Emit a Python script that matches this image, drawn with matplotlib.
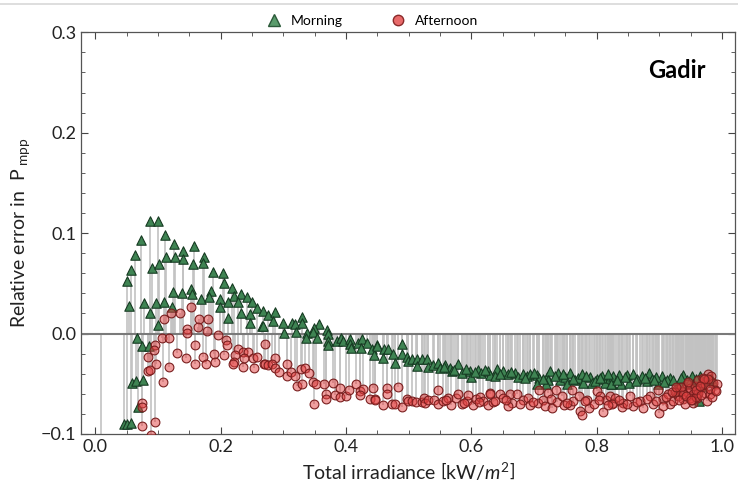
import matplotlib
matplotlib.use("Agg")
import matplotlib.pyplot as plt
from matplotlib.lines import Line2D
from matplotlib.ticker import MultipleLocator

plt.rcParams["font.family"] = ["Lato", "DejaVu Sans"]
plt.rcParams["mathtext.fontset"] = "custom"
plt.rcParams["mathtext.rm"] = "Lato"
plt.rcParams["mathtext.it"] = "Lato:italic"

# irradiance [kW/m2] and relative error, morning readings
morning_x = [
    0.088, 0.100, 0.073, 0.112, 0.126, 0.064, 0.113, 0.128, 0.057, 0.091,
    0.102, 0.050, 0.054, 0.078, 0.097, 0.110, 0.124, 0.088, 0.123, 0.100,
    0.067, 0.075, 0.086, 0.059, 0.065, 0.077, 0.069, 0.046, 0.051, 0.057,
    0.158, 0.140, 0.140, 0.156, 0.174, 0.172, 0.188, 0.204, 0.206, 0.218,
    0.139, 0.153, 0.155, 0.169, 0.185, 0.182, 0.199, 0.222, 0.233, 0.242,
    0.212, 0.228, 0.199, 0.250, 0.258, 0.233, 0.247, 0.212, 0.247, 0.266,
    0.268, 0.276, 0.287, 0.284, 0.300, 0.314, 0.319, 0.330, 0.330, 0.357,
    0.349, 0.268, 0.301, 0.321, 0.338, 0.348, 0.337, 0.354, 0.370, 0.372,
    0.372, 0.372, 0.386, 0.392, 0.396, 0.407, 0.407, 0.408, 0.419, 0.425,
    0.434, 0.424, 0.442, 0.444, 0.449, 0.450, 0.461, 0.467, 0.459, 0.490,
    0.490, 0.475, 0.479, 0.498, 0.499, 0.506, 0.514, 0.514, 0.522, 0.530,
    0.531, 0.539, 0.547, 0.550, 0.558, 0.566, 0.569, 0.579, 0.585, 0.598,
    0.600, 0.611, 0.616, 0.627, 0.630, 0.641, 0.651, 0.638, 0.659, 0.670,
    0.675, 0.682, 0.689, 0.694, 0.705, 0.708, 0.705, 0.721, 0.726, 0.723,
    0.719, 0.738, 0.742, 0.749, 0.758, 0.753, 0.766, 0.770, 0.776, 0.778,
    0.789, 0.792, 0.800, 0.809, 0.813, 0.821, 0.824, 0.826, 0.836, 0.848,
    0.858, 0.872, 0.884, 0.823, 0.839, 0.852, 0.864, 0.888, 0.904, 0.917,
    0.898, 0.938, 0.952, 0.965, 0.931, 0.928, 0.963, 0.944, 0.957, 0.975,
    0.912, 0.895, 0.880, 0.970, 0.985,
    0.556, 0.573, 0.592, 0.606, 0.622, 0.645, 0.664, 0.686, 0.700, 0.714,
    0.733, 0.746, 0.762, 0.783, 0.797, 0.805, 0.818, 0.832, 0.845, 0.862,
    0.877, 0.892, 0.908, 0.921, 0.935, 0.947, 0.959, 0.968, 0.979, 0.982,
]
morning_y = [
    0.112, 0.112, 0.093, 0.098, 0.089, 0.078, 0.076, 0.076, 0.063, 0.065,
    0.069, 0.052, 0.027, 0.030, 0.030, 0.031, 0.041, 0.020, 0.026, 0.009,
    -0.004, -0.012, -0.012, -0.049, -0.047, -0.046, -0.073, -0.090, -0.090, -0.089,
    0.087, 0.082, 0.074, 0.069, 0.076, 0.070, 0.061, 0.060, 0.050, 0.045,
    0.040, 0.044, 0.039, 0.034, 0.042, 0.036, 0.034, 0.037, 0.039, 0.036,
    0.031, 0.031, 0.026, 0.031, 0.025, 0.020, 0.019, 0.015, 0.011, 0.008,
    0.022, 0.018, 0.021, 0.013, 0.011, 0.011, 0.010, 0.016, 0.011, 0.010,
    0.006, 0.008, 0.001, 0.002, 0.001, 0.002, -0.004, -0.004, 0.004, 0.000,
    -0.007, -0.011, -0.007, -0.004, -0.007, -0.005, -0.010, -0.014, -0.009, -0.005,
    -0.009, -0.014, -0.015, -0.021, -0.011, -0.012, -0.015, -0.015, -0.024, -0.010,
    -0.020, -0.020, -0.029, -0.023, -0.027, -0.025, -0.025, -0.032, -0.025, -0.025,
    -0.033, -0.031, -0.029, -0.034, -0.031, -0.034, -0.037, -0.030, -0.039, -0.037,
    -0.043, -0.036, -0.039, -0.037, -0.041, -0.035, -0.037, -0.042, -0.040, -0.039,
    -0.043, -0.040, -0.042, -0.040, -0.041, -0.044, -0.050, -0.043, -0.037, -0.046,
    -0.050, -0.039, -0.046, -0.043, -0.039, -0.050, -0.046, -0.044, -0.040, -0.049,
    -0.043, -0.049, -0.045, -0.042, -0.049, -0.044, -0.050, -0.042, -0.041, -0.041,
    -0.040, -0.042, -0.039, -0.050, -0.050, -0.049, -0.045, -0.045, -0.042, -0.044,
    -0.050, -0.041, -0.042, -0.042, -0.049, -0.057, -0.067, -0.046, -0.047, -0.045,
    -0.046, -0.043, -0.047, -0.052, -0.048,
    -0.033, -0.036, -0.035, -0.038, -0.036, -0.040, -0.038, -0.044, -0.039, -0.045,
    -0.042, -0.040, -0.045, -0.042, -0.047, -0.044, -0.040, -0.046, -0.043, -0.047,
    -0.044, -0.046, -0.048, -0.046, -0.044, -0.049, -0.045, -0.050, -0.046, -0.044,
]

# afternoon readings
afternoon_x = [
    0.010, 0.121, 0.136, 0.110, 0.107, 0.118, 0.096, 0.094, 0.085, 0.131,
    0.097, 0.085, 0.088, 0.118, 0.108, 0.075, 0.075, 0.075, 0.096, 0.089,
    0.153, 0.166, 0.180, 0.147, 0.147, 0.164, 0.179, 0.196, 0.209, 0.211,
    0.159, 0.145, 0.172, 0.190, 0.206, 0.228, 0.236, 0.244, 0.223, 0.222,
    0.220, 0.238, 0.252, 0.258, 0.159, 0.177, 0.191, 0.236, 0.254, 0.270,
    0.271, 0.287, 0.271, 0.276, 0.282, 0.287, 0.293, 0.306, 0.306, 0.312,
    0.319, 0.328, 0.335, 0.341, 0.322, 0.330, 0.348, 0.352, 0.365, 0.379,
    0.349, 0.368, 0.368, 0.383, 0.391, 0.391, 0.400, 0.405, 0.416, 0.423,
    0.427, 0.423, 0.439, 0.443, 0.447, 0.466, 0.483, 0.466, 0.447, 0.459,
    0.474, 0.478, 0.490, 0.498, 0.499, 0.506, 0.512, 0.522, 0.525, 0.526,
    0.531, 0.541, 0.547, 0.547, 0.555, 0.563, 0.568, 0.576, 0.579, 0.585,
    0.593, 0.595, 0.603, 0.608, 0.614, 0.619, 0.627, 0.630, 0.635, 0.630,
    0.646, 0.638, 0.651, 0.662, 0.665, 0.673, 0.659, 0.683, 0.691, 0.694,
    0.708, 0.707, 0.715, 0.718, 0.723, 0.729, 0.735, 0.737, 0.745, 0.748,
    0.758, 0.760, 0.763, 0.772, 0.774, 0.776, 0.784, 0.787, 0.795, 0.800,
    0.805, 0.810, 0.815, 0.821, 0.826, 0.829, 0.824, 0.842, 0.840, 0.853,
    0.858, 0.869, 0.874, 0.885, 0.890, 0.900, 0.898, 0.906, 0.914, 0.917,
    0.922, 0.928, 0.930, 0.936, 0.938, 0.944, 0.946, 0.949, 0.954, 0.957,
    0.960, 0.965, 0.968, 0.973, 0.976, 0.978, 0.983, 0.986, 0.992, 0.973,
    0.954, 0.941, 0.981, 0.962, 0.938, 0.906, 0.949, 0.962, 0.970, 0.952,
    0.934, 0.925, 0.978, 0.988, 0.958,
    0.560, 0.588, 0.612, 0.655, 0.678, 0.699, 0.727, 0.752, 0.781, 0.803,
    0.818, 0.836, 0.848, 0.864, 0.880, 0.894, 0.910, 0.920, 0.932, 0.942,
    0.951, 0.959, 0.966, 0.971, 0.980, 0.984, 0.990, 0.945, 0.927, 0.964,
]
afternoon_y = [
    -0.130, 0.020, 0.020, 0.014, -0.004, -0.004, -0.011, -0.016, -0.023, -0.019,
    -0.030, -0.037, -0.036, -0.033, -0.048, -0.069, -0.073, -0.092, -0.088, -0.101,
    0.026, 0.014, 0.014, 0.005, 0.001, 0.007, 0.003, -0.001, -0.006, -0.011,
    -0.011, -0.024, -0.023, -0.020, -0.021, -0.015, -0.018, -0.018, -0.021, -0.028,
    -0.030, -0.024, -0.024, -0.023, -0.030, -0.030, -0.028, -0.033, -0.034, -0.030,
    -0.010, -0.024, -0.030, -0.031, -0.030, -0.034, -0.038, -0.030, -0.042, -0.038,
    -0.042, -0.035, -0.034, -0.039, -0.052, -0.050, -0.048, -0.050, -0.050, -0.049,
    -0.070, -0.060, -0.065, -0.061, -0.054, -0.063, -0.062, -0.056, -0.050, -0.057,
    -0.055, -0.061, -0.065, -0.054, -0.065, -0.054, -0.053, -0.060, -0.066, -0.071,
    -0.070, -0.070, -0.073, -0.065, -0.067, -0.067, -0.068, -0.068, -0.064, -0.069,
    -0.066, -0.066, -0.056, -0.070, -0.067, -0.064, -0.071, -0.064, -0.060, -0.070,
    -0.067, -0.061, -0.071, -0.065, -0.063, -0.067, -0.071, -0.059, -0.068, -0.060,
    -0.060, -0.067, -0.064, -0.060, -0.069, -0.060, -0.072, -0.066, -0.064, -0.071,
    -0.056, -0.069, -0.066, -0.072, -0.059, -0.074, -0.056, -0.068, -0.062, -0.071,
    -0.071, -0.056, -0.067, -0.062, -0.077, -0.081, -0.066, -0.074, -0.070, -0.057,
    -0.062, -0.078, -0.066, -0.062, -0.069, -0.064, -0.070, -0.069, -0.073, -0.062,
    -0.072, -0.067, -0.074, -0.062, -0.070, -0.079, -0.056, -0.065, -0.060, -0.070,
    -0.067, -0.055, -0.062, -0.057, -0.065, -0.050, -0.059, -0.054, -0.060, -0.052,
    -0.064, -0.054, -0.049, -0.059, -0.067, -0.040, -0.042, -0.049, -0.050, -0.050,
    -0.069, -0.070, -0.060, -0.059, -0.060, -0.072, -0.064, -0.046, -0.044, -0.066,
    -0.053, -0.058, -0.045, -0.056, -0.063,
    -0.066, -0.069, -0.068, -0.066, -0.070, -0.068, -0.065, -0.069, -0.067, -0.066,
    -0.071, -0.066, -0.070, -0.068, -0.065, -0.067, -0.063, -0.058, -0.066, -0.062,
    -0.066, -0.056, -0.061, -0.045, -0.055, -0.063, -0.057, -0.048, -0.053, -0.052,
]

fig = plt.figure(figsize=(7.38, 4.96), dpi=100)
ax = fig.add_axes([0.110, 0.125, 0.886, 0.810])

# stems from the zero line to every reading
stem_kw = dict(color="#c2c2c2", linewidth=1.2, zorder=1)
ax.vlines(morning_x, 0, morning_y, **stem_kw)
ax.vlines(afternoon_x, 0, afternoon_y, **stem_kw)
ax.axhline(0, color="#7a7a7a", linewidth=1.5, zorder=2)

ax.scatter(morning_x, morning_y, marker="^", s=46, facecolor="#3f8453",
           edgecolor="#163a22", linewidth=0.8, zorder=3, label="Morning")
ax.scatter(afternoon_x, afternoon_y, marker="o", s=40, facecolor=(0.89, 0.25, 0.25, 0.5),
           edgecolor="#7a1f1f", linewidth=0.8, zorder=4, label="Afternoon")

ax.set_xlim(-0.0223, 1.0207)
ax.set_ylim(-0.1, 0.3)
ax.xaxis.set_major_locator(MultipleLocator(0.2))
ax.xaxis.set_minor_locator(MultipleLocator(0.05))
ax.yaxis.set_major_locator(MultipleLocator(0.1))
ax.yaxis.set_minor_locator(MultipleLocator(0.02))
ax.xaxis.set_major_formatter(lambda v, p: f"{v:.1f}")
ax.yaxis.set_major_formatter(lambda v, p: f"{v:.1f}".replace("-", "\u2212"))
ax.tick_params(which="both", direction="in", top=True, right=True,
               color="#444444", labelsize=13, labelcolor="#222222")
ax.tick_params(which="major", length=5, width=0.8)
ax.tick_params(which="minor", length=3, width=0.6)
for sp in ax.spines.values():
    sp.set_color("#555555")
    sp.set_linewidth(0.9)

ax.set_xlabel(r"Total irradiance $\left[\mathrm{kW}/m^{2}\right]$", fontsize=14,
              color="#222222", labelpad=4)
ax.set_ylabel(r"Relative error in  P$_{\rm\ mpp}$", fontsize=14, color="#222222",
              labelpad=6)
ax.text(0.955, 0.905, "Gadir", transform=ax.transAxes, ha="right", va="center",
        fontsize=17, fontweight="bold", color="black")

handles = [
    Line2D([], [], marker="^", linestyle="none", markersize=8,
           markerfacecolor="#5a9c6c", markeredgecolor="#2c5a3a", label="Morning"),
    Line2D([], [], marker="o", linestyle="none", markersize=7.5,
           markerfacecolor="#e86a6a", markeredgecolor="#8a2a2a", label="Afternoon"),
]
fig.legend(handles=handles, loc="upper center", bbox_to_anchor=(0.5, 0.995), ncol=2,
           frameon=False, fontsize=10, handletextpad=0.2, columnspacing=3.0)
fig.add_artist(Line2D([0, 1], [0.992, 0.992], color="#d8d8d8", linewidth=1.2))

fig.savefig("out.png", dpi=100)
